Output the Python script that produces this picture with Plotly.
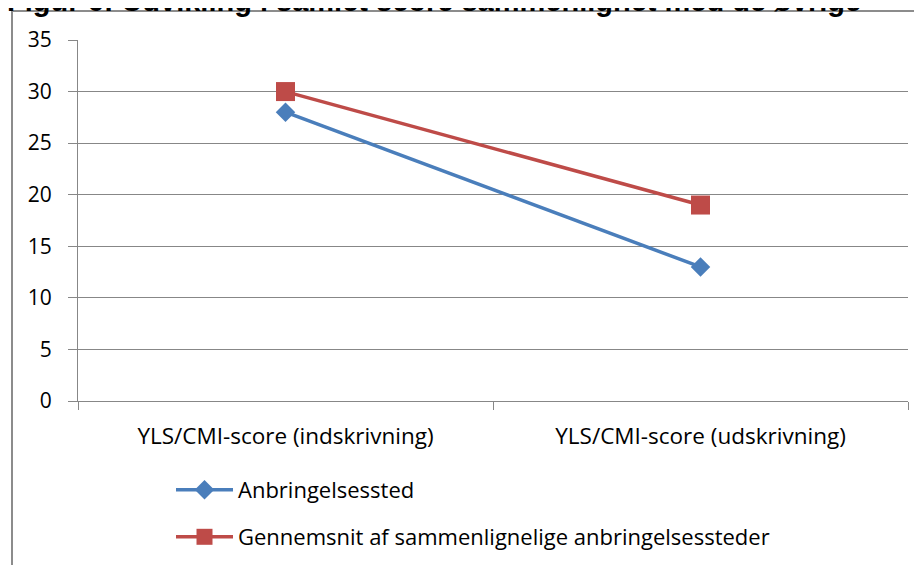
import plotly.graph_objects as go

categories = ["YLS/CMI-score (indskrivning)", "YLS/CMI-score (udskrivning)"]
anbringelsessted = [28, 13]
gennemsnit = [30, 19]
series_names = ["Anbringelsessted", "Gennemsnit af sammenlignelige anbringelsessteder"]
y_ticks = [0, 5, 10, 15, 20, 25, 30, 35]
title_text = "Figur 6: Udvikling i samlet score sammenlignet med de øvrige"

BLUE = "#4A7EBB"
RED = "#BE4B48"
GRID = "#878787"
FONT = "Open Sans"
FS = 22

fig = go.Figure()
fig.add_trace(go.Scatter(
    x=categories, y=anbringelsessted, name=series_names[0], mode="lines+markers",
    line=dict(color=BLUE, width=3.5),
    marker=dict(symbol="diamond", size=15, color=BLUE),
    legend="legend",
))
fig.add_trace(go.Scatter(
    x=categories, y=gennemsnit, name=series_names[1], mode="lines+markers",
    line=dict(color=RED, width=3.5),
    marker=dict(symbol="square", size=19, color=RED),
    legend="legend2",
))

# plot area in screenshot pixels: x 78..908, y 40..401 (page has 8px body offset)
H = 361.0
W = 830.0
def px_x(p):
    return (p - 78) / W
def px_y(p):
    return 1 + (40 - p) / H

fig.update_layout(
    width=922, height=565,
    margin=dict(l=70, r=22, t=32, b=172, autoexpand=False),
    paper_bgcolor="white", plot_bgcolor="white",
    font=dict(family=FONT, size=FS, color="#000000"),
    xaxis=dict(
        type="category", range=[-0.5, 1.5],
        showgrid=False, showline=True, linecolor=GRID, linewidth=1,
        ticks="outside", tickson="boundaries", ticklen=8, tickcolor=GRID,
        ticklabelstandoff=15, tickfont=dict(family=FONT, size=22.5),
        zeroline=False, automargin=False,
    ),
    yaxis=dict(
        range=[0, 35], tickvals=y_ticks,
        showgrid=True, gridcolor=GRID, gridwidth=1,
        showline=True, linecolor=GRID, linewidth=1,
        ticks="outside", ticklen=9, tickcolor=GRID,
        ticklabelstandoff=12, tickfont=dict(family=FONT, size=21),
        zeroline=False, automargin=False,
    ),
    legend=dict(
        x=px_x(171), y=px_y(490), xanchor="left", yanchor="middle",
        font=dict(family=FONT, size=FS), bgcolor="rgba(0,0,0,0)",
        itemwidth=57,
    ),
    legend2=dict(
        x=px_x(171), y=px_y(537), xanchor="left", yanchor="middle",
        font=dict(family=FONT, size=FS), bgcolor="rgba(0,0,0,0)",
        itemwidth=57,
    ),
    shapes=[dict(
        type="rect", xref="paper", yref="paper",
        x0=px_x(12), x1=1.2, y0=-1.0, y1=px_y(11),
        line=dict(color="#8c8c8c", width=2), fillcolor="rgba(0,0,0,0)", layer="below",
    )],
    annotations=[dict(
        text="<b>" + title_text + "</b>", xref="paper", yref="paper",
        x=px_x(5), y=px_y(0.5), xanchor="left", yanchor="middle",
        showarrow=False, font=dict(family="Liberation Sans", size=29, color="#000000"),
    )],
    showlegend=True,
)

fig.write_html("out.html")
